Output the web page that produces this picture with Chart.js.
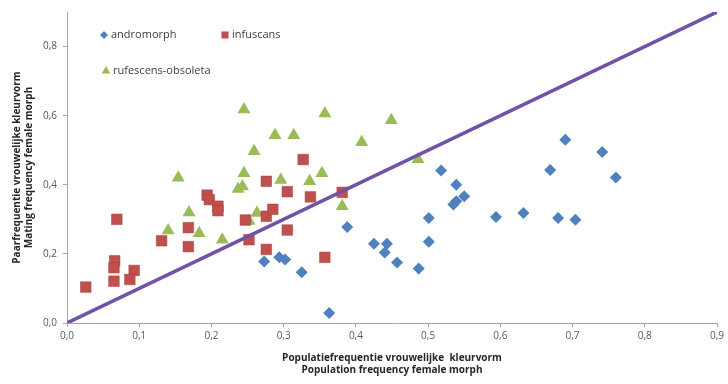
<!DOCTYPE html>
<html>
<head>
<meta charset="utf-8">
<script src="https://cdn.jsdelivr.net/npm/chart.js@4/dist/chart.umd.min.js"></script>
<style>
html,body{margin:0;padding:0;background:#fff;}
#wrap{width:728px;height:384px;position:relative;}
</style>
</head>
<body>
<div id="wrap"><canvas id="c" width="728" height="384"></canvas></div>
<script>
// Data
const seriesNames = ["andromorph", "infuscans", "rufescens-obsoleta"];

const andromorphX = [0.273,0.294,0.302,0.325,0.363,0.388,0.425,0.443,0.440,0.457,0.487,0.501,0.501,0.518,0.539,0.550,0.535,0.539,0.594,0.632,0.690,0.669,0.680,0.704,0.741,0.760];
const andromorphY = [0.178,0.190,0.184,0.147,0.029,0.278,0.229,0.229,0.204,0.175,0.158,0.235,0.304,0.441,0.400,0.367,0.343,0.352,0.307,0.318,0.530,0.443,0.304,0.299,0.495,0.421];

const infuscansX = [0.026,0.069,0.066,0.065,0.065,0.093,0.087,0.131,0.168,0.168,0.194,0.197,0.209,0.209,0.247,0.252,0.276,0.276,0.276,0.285,0.305,0.305,0.337,0.357,0.381,0.327];
const infuscansY = [0.104,0.300,0.180,0.160,0.121,0.152,0.126,0.238,0.276,0.221,0.370,0.357,0.338,0.325,0.298,0.241,0.410,0.213,0.309,0.329,0.380,0.269,0.365,0.190,0.378,0.473];

const rufescensX = [0.154,0.140,0.169,0.183,0.209,0.215,0.237,0.243,0.245,0.245,0.252,0.259,0.263,0.288,0.296,0.314,0.336,0.353,0.357,0.381,0.408,0.449,0.486];
const rufescensY = [0.420,0.268,0.320,0.260,0.332,0.241,0.388,0.395,0.433,0.618,0.295,0.497,0.318,0.543,0.414,0.543,0.410,0.433,0.606,0.338,0.523,0.587,0.474];

const diagonalX = [0, 0.9];
const diagonalY = [0, 0.9];

const xTitle = ["Populatiefrequentie vrouwelijke  kleurvorm", "Population frequency female morph"];
const yTitle = ["Paarfrequentie vrouwelijke kleurvorm", "Mating frequency female morph"];

const pts = (xs, ys) => xs.map((x, i) => ({x: x, y: ys[i]}));
const fmt = v => Number(v).toFixed(1).replace('.', ',');

const colors = ["#4F81BD", "#C0504D", "#9BBB59"];
const styles = ["rectRot", "rect", "triangle"];
const radii = [6, 7.5, 7.5];

const legendPlugin = {
  id: 'insideLegend',
  afterDatasetsDraw(chart) {
    const ctx = chart.ctx;
    const a = chart.chartArea;
    const items = [
      {i:0, x: a.left + 37, y: a.top + 23},
      {i:1, x: a.left + 158, y: a.top + 23},
      {i:2, x: a.left + 39, y: a.top + 59}
    ];
    ctx.save();
    ctx.font = '11px "Open Sans", sans-serif';
    ctx.textBaseline = 'middle';
    items.forEach(it => {
      const r = it.i === 0 ? 4 : 5;
      ctx.fillStyle = colors[it.i];
      ctx.strokeStyle = colors[it.i];
      Chart.helpers.drawPoint(ctx, {pointStyle: styles[it.i], radius: r, borderWidth: 0}, it.x, it.y);
      ctx.fillStyle = '#404040';
      ctx.fillText(seriesNames[it.i], it.x + 7, it.y);
    });
    ctx.restore();
  }
};

new Chart(document.getElementById('c'), {
  type: 'scatter',
  data: {
    datasets: [
      {
        label: 'diagonal', type: 'line', data: pts(diagonalX, diagonalY),
        borderColor: '#7152A8', borderWidth: 3.5, pointRadius: 0, fill: false, order: 0
      },
      {
        label: seriesNames[0], data: pts(andromorphX, andromorphY),
        pointStyle: styles[0], pointRadius: radii[0], backgroundColor: colors[0], borderColor: colors[0], borderWidth: 0, order: 1
      },
      {
        label: seriesNames[1], data: pts(infuscansX, infuscansY),
        pointStyle: styles[1], pointRadius: radii[1], backgroundColor: colors[1], borderColor: '#A0403D', borderWidth: 0.5, order: 1
      },
      {
        label: seriesNames[2], data: pts(rufescensX, rufescensY),
        pointStyle: styles[2], pointRadius: radii[2], backgroundColor: colors[2], borderColor: colors[2], borderWidth: 0, order: 1
      }
    ]
  },
  options: {
    responsive: false,
    animation: false,
    layout: {padding: {top: 8, right: 11, left: 11, bottom: 8}},
    plugins: {legend: {display: false}, tooltip: {enabled: false}},
    scales: {
      x: {
        type: 'linear', min: 0, max: 0.9,
        afterFit: s => { s.height = 53; },
        border: {color: '#A6A6A6', width: 1},
        grid: {display: true, drawOnChartArea: false, drawTicks: true, tickLength: 4, color: '#A6A6A6'},
        ticks: {stepSize: 0.1, callback: v => fmt(v), color: '#595959', font: {family: '"Open Sans", sans-serif', size: 10}, padding: 3, maxRotation: 0},
        title: {display: true, text: xTitle, color: '#262626', font: {family: '"Open Sans", sans-serif', size: 10, weight: 'bold'}, padding: {top: 6, bottom: 0}}
      },
      y: {
        type: 'linear', min: 0, max: 0.9,
        afterFit: s => { s.width = 56; },
        border: {color: '#A6A6A6', width: 1},
        grid: {display: true, drawOnChartArea: false, drawTicks: true, tickLength: 4, color: '#A6A6A6'},
        ticks: {stepSize: 0.2, includeBounds: false, callback: v => fmt(v), color: '#595959', font: {family: '"Open Sans", sans-serif', size: 10}, padding: 6},
        title: {display: true, text: yTitle, color: '#262626', font: {family: '"Open Sans", sans-serif', size: 10, weight: 'bold'}, padding: {top: 0, bottom: 4}}
      }
    }
  },
  plugins: [legendPlugin]
});
</script>
</body>
</html>
